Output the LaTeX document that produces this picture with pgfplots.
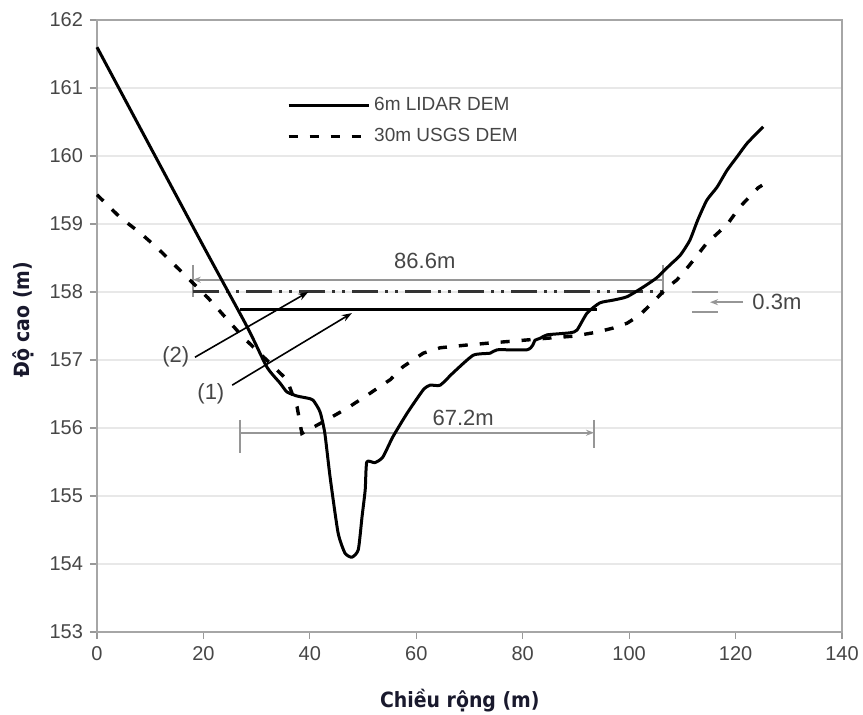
\documentclass[border=0pt]{standalone}
\usepackage{fontspec}
\setmainfont{Liberation Sans}
\newfontfamily\labelfont{DejaVu Sans Condensed Bold}
\usepackage{pgfplots}
\pgfplotsset{compat=1.18}
\usetikzlibrary{arrows.meta}
\definecolor{labcol}{RGB}{25,25,45}
\definecolor{dimgray}{RGB}{150,150,150}
\definecolor{txtgray}{RGB}{70,70,70}
\begin{document}
\begin{tikzpicture}
\begin{axis}[
 scale only axis, width=372.5pt, height=306pt,
 xmin=0, xmax=140, ymin=153, ymax=162,
 xtick={0,20,...,140}, ytick={153,154,...,162},
 tick pos=left, tick align=outside, major tick length=3.5pt,
 tick style={draw=gray!80, line width=0.6pt},
 axis line style={draw=gray!70, line width=0.8pt},
 ymajorgrids, grid style={draw=gray!18, line width=0.7pt},
 ticklabel style={font=\fontsize{10}{12}\selectfont, text=txtgray},
 /pgf/number format/assume math mode=true,
 /pgf/number format/1000 sep={},
 xlabel={Chiều rộng (m)}, ylabel={Độ cao (m)},
 xlabel style={font=\labelfont\fontsize{10.5}{12}\selectfont, text=labcol, at={(axis description cs:0.487,-0.124)}, anchor=base},
 ylabel style={font=\labelfont\fontsize{10.5}{12}\selectfont, text=labcol, at={(axis description cs:-0.099,0.51)}, anchor=center},
 legend style={draw=none, fill=none, at={(axis cs:35.6,160.93)}, anchor=north west, inner sep=0pt, row sep=3.5pt, font=\fontsize{9.5}{11}\selectfont, text=txtgray},
 legend cell align=left,
 legend image code/.code={\draw[#1] (0pt,0pt) -- (40pt,0pt);},
 clip=false,
]
% annotations
\draw[dimgray, line width=1.1pt, {Stealth[length=4pt,width=3pt]}-] (axis cs:18.0,158.18) -- (axis cs:106.4,158.18);
\draw[dimgray, line width=1.1pt] (axis cs:18.0,158.4) -- (axis cs:18.0,157.93);
\draw[dimgray, line width=1.1pt] (axis cs:106.4,158.4) -- (axis cs:106.4,157.95);
\node[text=txtgray, font=\fontsize{11}{13}\selectfont] at (axis cs:61.6,158.46) {86.6m};
\draw[black!80, line width=1.5pt, dash pattern=on 13pt off 3.5pt on 1.5pt off 3.5pt on 1.5pt off 3.5pt] (axis cs:18.0,158.0) -- (axis cs:107,158.0);
\draw[black, line width=1.3pt] (axis cs:26.9,157.74) -- (axis cs:94.0,157.74);
\draw[dimgray, line width=1.1pt, -{Stealth[length=4pt,width=3pt]}] (axis cs:26.9,155.93) -- (axis cs:93.4,155.93);
\draw[dimgray, line width=1.1pt] (axis cs:26.9,156.12) -- (axis cs:26.9,155.63);
\draw[dimgray, line width=1.1pt] (axis cs:93.4,156.12) -- (axis cs:93.4,155.71);
\node[text=txtgray, font=\fontsize{11}{13}\selectfont] at (axis cs:68.8,156.15) {67.2m};
\draw[black, line width=0.8pt, -{Stealth[length=5pt,width=3.5pt]}] (axis cs:18.4,157.04) -- (axis cs:39.7,158.0);
\node[text=txtgray, font=\fontsize{11}{13}\selectfont] at (axis cs:14.8,157.04) {(2)};
\draw[black, line width=0.8pt, -{Stealth[length=5pt,width=3.5pt]}] (axis cs:25.4,156.63) -- (axis cs:47.9,157.69);
\node[text=txtgray, font=\fontsize{11}{13}\selectfont] at (axis cs:21.4,156.5) {(1)};
\draw[dimgray, line width=1.1pt] (axis cs:111.8,158.0) -- (axis cs:116.7,158.0);
\draw[dimgray, line width=1.1pt] (axis cs:111.8,157.71) -- (axis cs:116.7,157.71);
\draw[dimgray, line width=1.1pt, -{Stealth[length=4pt,width=3pt]}] (axis cs:121.4,157.85) -- (axis cs:115.2,157.85);
\node[text=txtgray, font=\fontsize{11}{13}\selectfont, anchor=west, inner sep=0pt] at (axis cs:123.1,157.85) {0.3m};
% data
\addplot[black, line width=1.5pt, line join=round, smooth, tension=0.35] coordinates {
(0,161.60) (19.4,158.76) (28.2,157.49) (31.9,156.90) (34.4,156.66) (35.7,156.53)
(37.6,156.47) (39.5,156.44) (40.6,156.41) (41.9,156.24) (42.8,155.93) (43.8,155.28) (45.3,154.46)
(46.6,154.16) (47.9,154.10) (49.1,154.21) (49.8,154.69) (50.4,155.09) (50.7,155.50) (52.2,155.49)
(53.7,155.57) (55.6,155.87) (58.3,156.22) (61.3,156.56) (62.6,156.63) (64.5,156.63) (66.9,156.81)
(70.7,157.07) (73.9,157.10) (75.2,157.15) (80.8,157.15) (81.9,157.22) (82.3,157.29) (83.3,157.32)
(84.6,157.37) (88.9,157.40) (90.2,157.44) (92.1,157.69) (94.5,157.84) (97.0,157.88) (99.6,157.93)
(102.6,158.07) (105.2,158.21) (107.7,158.40) (109.6,158.54) (111.4,158.76) (112.9,159.06)
(114.6,159.35) (116.5,159.54) (118.4,159.79) (120.3,159.99) (122.2,160.19) (125.2,160.43)
};
\addlegendentry{6m LIDAR DEM}
\addplot[black, line width=1.7pt, dash pattern=on 4.5pt off 6pt] coordinates {
(0,159.43) (4.3,159.10) (8.1,158.87) (11.3,158.65) (20.9,157.91) (27.4,157.34) (35.7,156.71)
(37.6,156.31) (38.5,155.92) (42.5,156.09) (47.0,156.29) (51.3,156.51) (55.1,156.71) (57.5,156.90)
(61.3,157.10) (64.5,157.18) (69.5,157.22) (73.9,157.25) (80.1,157.29) (84.6,157.32) (89.5,157.35)
(94.0,157.41) (97.0,157.47) (99.6,157.54) (102.0,157.66) (105.2,157.91) (107.1,158.06)
(109.0,158.18) (111.4,158.40) (114.6,158.72) (118.4,158.99) (120.8,159.25) (124.2,159.53) (125.0,159.57)
};
\addlegendentry{30m USGS DEM}
\end{axis}
\pgfresetboundingbox
\path ([shift={(-48.5pt,-41.5pt)}]current axis.south west) rectangle ([shift={(10.5pt,10pt)}]current axis.north east);
\end{tikzpicture}
\end{document}
